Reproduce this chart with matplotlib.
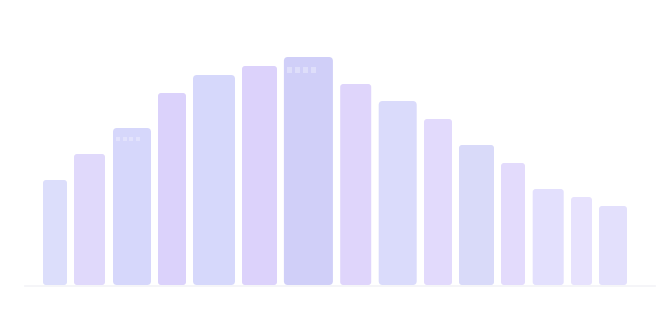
import matplotlib
matplotlib.use("Agg")
import matplotlib.pyplot as plt
from matplotlib.patches import FancyBboxPatch, Rectangle

# data
categories = [f"B{i+1}" for i in range(15)]
values = [105, 131, 157, 192, 210, 219, 228, 201, 184, 166, 140, 122, 96, 88, 79]

# layout / style
centers = [55, 89.5, 132, 172, 214, 259.5, 308.4, 355.7, 397.7, 438, 476.5, 513, 548.2, 581.5, 613]
widths = [24, 31, 38, 28, 42, 35, 49, 31, 38, 28, 35, 24, 31, 21, 28]
colors = ['#dcdefb', '#e0d9fb', '#d6d7fb', '#dbd2fb', '#d6d8fb', '#dcd2fb', '#d0cff8',
          '#dfd5fb', '#dadbfb', '#e2dafc', '#d9daf9', '#e3dbfc', '#e3e0fd', '#e7e2fd', '#e3e0fc']
dotted = {2: (4, 3, 4.5, 6.6, 8.5, '#e2e2fc'), 6: (5, 3.5, 6.5, 8, 9.5, '#dedefa')}

fig = plt.figure(figsize=(6.6, 3.2), dpi=100)
ax = fig.add_axes([0, 0, 1, 1])
ax.set_xlim(0, 660)
ax.set_ylim(-35, 285)
ax.axis('off')

ax.plot([25, 655], [-0.5, -0.5], color='#f3f3f7', lw=1.2, zorder=1)

bars = ax.bar(centers, values, width=widths, color=colors)
for i, b in enumerate(bars):
    x, y = b.get_x(), b.get_y()
    w, h = b.get_width(), b.get_height()
    b.remove()
    r = 4 if w > 36 else 3
    p = FancyBboxPatch((x, y), w, h, boxstyle=f"round,pad=0,rounding_size={r}",
                       fc=colors[i], ec='none', zorder=2)
    ax.add_patch(p)
    if i in dotted:
        sw, off, sh, step, top, c = dotted[i]
        for k in range(4):
            ax.add_patch(Rectangle((x + off + k * step, h - top - sh), sw, sh,
                                   fc=c, ec='none', zorder=3))

fig.savefig("out.png", dpi=100)
